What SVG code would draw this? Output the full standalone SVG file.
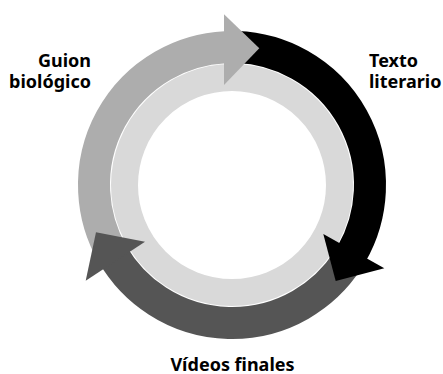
<svg xmlns="http://www.w3.org/2000/svg" width="443" height="374" viewBox="0 0 443 374">
<style>
  .lbl { font-family: "Noto Sans", "Open Sans", "DejaVu Sans", sans-serif; font-weight: bold; font-size: 18px; fill: #000000; }
  .band { fill: none; stroke-width: 32; stroke-linecap: butt; }
</style>
<rect width="443" height="374" fill="#FFFFFF"/>
<g id="ring">
  <circle cx="232" cy="185" r="107.5" fill="none" stroke="#D9D9D9" stroke-width="27"/>
</g>
<g id="connectors">
  <path id="arc-guion" class="band" stroke="#ADADAD" d="M112.49,254 A138,138 0 0 1 225.26,47.16"/>
  <path id="arc-texto" class="band" stroke="#000000" d="M236.82,47.08 A138,138 0 0 1 351.51,254"/>
  <path id="arc-videos" class="band" stroke="#555555" d="M347.74,260.16 A138,138 0 0 1 112.49,254"/>
  <polygon id="head-guion" fill="#ADADAD" points="224,14.3 259.3,48.3 224,85"/>
  <polygon id="head-texto" fill="#000000" points="323.3,234 384.3,268.3 335.7,281"/>
  <polygon id="head-videos" fill="#555555" points="145,241.7 85.7,280.7 96,232.3"/>
</g>
<g id="node-guion">
  <text class="lbl" x="91" y="66.5" text-anchor="end">Guion</text>
  <text class="lbl" x="91" y="88" text-anchor="end">biológico</text>
</g>
<g id="node-texto">
  <text class="lbl" x="369" y="66.5">Texto</text>
  <text class="lbl" x="369" y="88">literario</text>
</g>
<g id="node-videos">
  <text class="lbl" x="232.5" y="371" text-anchor="middle">Vídeos finales</text>
</g>
</svg>
